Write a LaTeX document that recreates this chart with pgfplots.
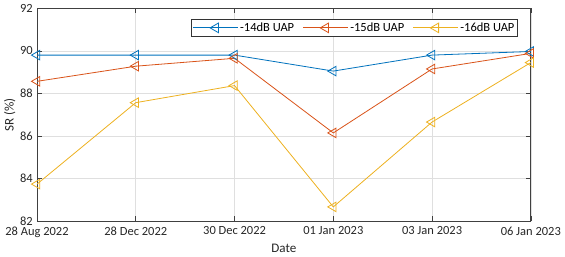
\documentclass[border=0pt]{standalone}
\usepackage{fontspec}
\setmainfont{Carlito}
\usepackage{pgfplots}
\pgfplotsset{compat=1.18}
\definecolor{mblue}{rgb}{0,0.447,0.741}
\definecolor{morange}{rgb}{0.85,0.325,0.098}
\definecolor{myellow}{rgb}{0.929,0.694,0.125}
\begin{document}
\fontsize{12.4}{15}\selectfont
\begin{tikzpicture}
\begin{axis}[
  scale only axis,
  width=491pt, height=212pt,
  xmin=0, xmax=5, ymin=82, ymax=92,
  xtick={0,1,2,3,4,5},
  xticklabels={28 Aug 2022,28 Dec 2022,30 Dec 2022,01 Jan 2023,03 Jan 2023,06 Jan 2023},
  ytick={82,84,86,88,90,92},
  /pgf/number format/assume math mode=true,
  tick label style={font=\fontsize{12.4}{15}\selectfont, text=black!85},
  xticklabel style={yshift=-1pt},
  label style={font=\fontsize{13}{15}\selectfont, text=black!85},
  xlabel={Date}, ylabel={SR (\%)},
  xlabel style={yshift=2pt},
  ylabel style={yshift=-4pt},
  grid=major,
  major grid style={gray!25, line width=0.6pt},
  axis line style={black!75, line width=0.7pt},
  tick style={black!75, line width=0.6pt},
  tick align=inside,
  major tick length=5pt,
  legend columns=3,
  legend style={at={(0.9735,0.948)}, anchor=north east, draw=black!80, line width=0.6pt,
    font=\fontsize{12.4}{15}\selectfont, inner sep=1.5pt,
    nodes={inner sep=1.5pt},
    /tikz/every even column/.append style={column sep=7pt}},
  legend image code/.code={
    \draw[#1, mark repeat=2, mark phase=2] plot coordinates {(0pt,0pt) (22.5pt,0pt) (45pt,0pt)};
  },
  every axis plot/.append style={line width=0.8pt, mark=triangle, mark size=5.5pt,
    mark options={rotate=90, solid, fill=none}},
]
\addplot[color=mblue] coordinates {(0,89.8) (1,89.8) (2,89.8) (3,89.05) (4,89.8) (5,89.97)};
\addlegendentry{-14dB UAP}
\addplot[color=morange] coordinates {(0,88.57) (1,89.28) (2,89.65) (3,86.15) (4,89.15) (5,89.88)};
\addlegendentry{-15dB UAP}
\addplot[color=myellow] coordinates {(0,83.75) (1,87.57) (2,88.37) (3,82.68) (4,86.66) (5,89.45)};
\addlegendentry{-16dB UAP}
\end{axis}
\end{tikzpicture}
\end{document}
